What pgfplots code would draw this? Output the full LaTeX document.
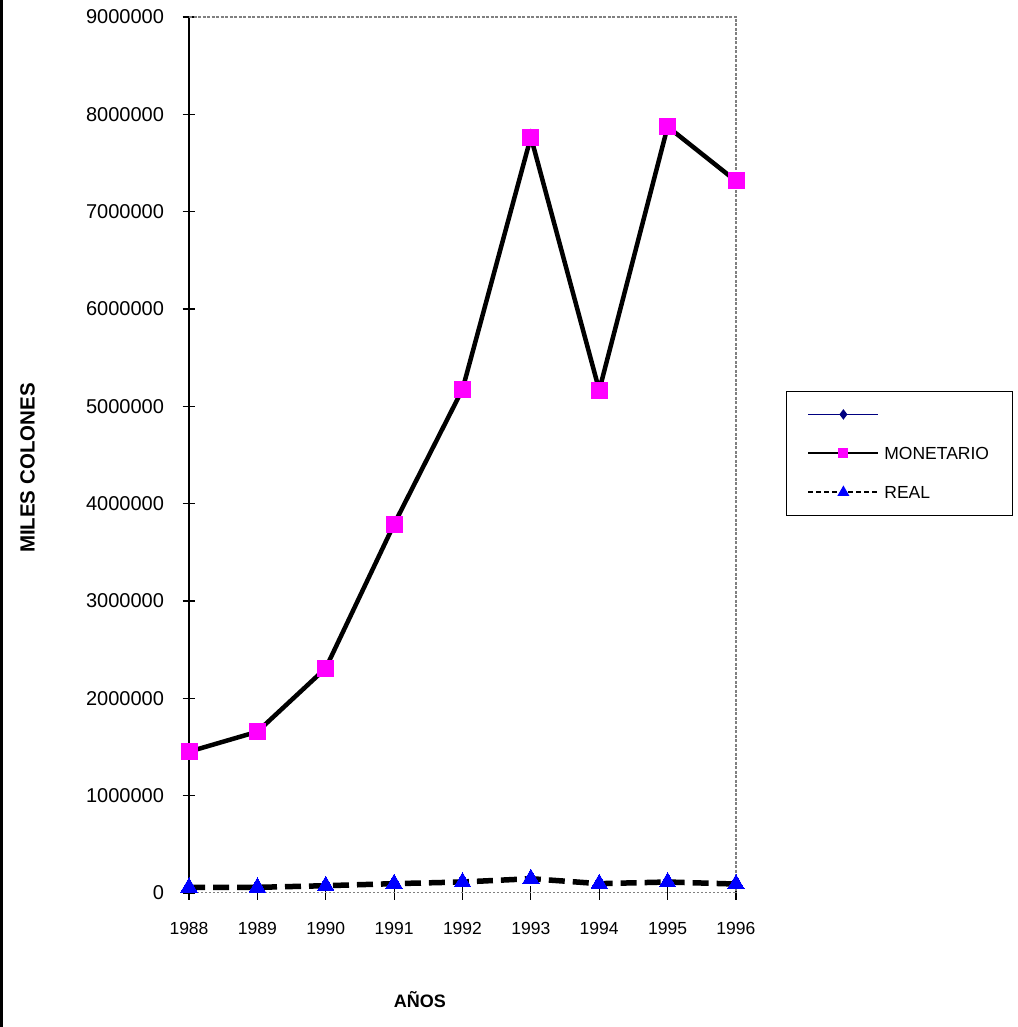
\documentclass[border=0pt]{standalone}
\usepackage{pgfplots}
\pgfplotsset{compat=1.18}
\usepackage{fontspec}
\setmainfont{Liberation Sans}
\definecolor{navyline}{RGB}{0,0,128}
\definecolor{mag}{RGB}{255,0,255}
\definecolor{blu}{RGB}{0,0,255}
\begin{document}
\begin{tikzpicture}
\path (0pt,0pt) rectangle (1017pt,1027pt);
\fill[black] (0pt,0pt) rectangle (3pt,1027pt);
\begin{axis}[
  at={(189pt,134pt)}, anchor=south west,
  scale only axis, width=547pt, height=876pt,
  xmin=1988, xmax=1996, ymin=0, ymax=9000000,
  xtick={1988,1989,...,1996},
  ytick={0,1000000,2000000,3000000,4000000,5000000,6000000,7000000,8000000,9000000},
  axis x line*=bottom, axis y line*=left,
  x axis line style={gray, dash pattern=on 2pt off 2pt, line width=1pt},
  y axis line style={black, line width=1.2pt},
  tick align=center, major tick length=13pt,
  major tick style={black, solid, line width=1.2pt},
  clip=false,
  scaled y ticks=false,
  /pgf/number format/assume math mode=true,
  x tick label style={/pgf/number format/1000 sep={}, font=\fontsize{17.5}{20}\selectfont, yshift=-19pt},
  y tick label style={/pgf/number format/fixed, /pgf/number format/1000 sep={}, font=\fontsize{20}{22}\selectfont, xshift=-15pt},
  xlabel={\textbf{AÑOS}},
  xlabel style={at={(axis description cs:0.422,-0.122)}, anchor=center, font=\fontsize{18}{20}\selectfont},
  ylabel={\textbf{MILES COLONES}},
  ylabel style={at={(axis description cs:-0.295,0.485)}, anchor=center, rotate=0, font=\fontsize{20.5}{22}\selectfont},
  legend image code/.code={\draw[mark repeat=2, mark phase=2, #1] plot coordinates {(0pt,0pt) (35pt,0pt) (70pt,0pt)};},
  legend style={at={(1.0914,0.573)}, anchor=north west, draw=black, line width=0.8pt,
    font=\fontsize{17.5}{20}\selectfont, inner xsep=21pt, inner ysep=11pt,
    row sep=15pt, column sep=3pt,
    nodes={inner sep=2pt, minimum height=24pt, text depth=0pt}},
  legend cell align=left,
]
\draw[gray, dash pattern=on 3pt off 1.5pt, line width=1.2pt] (rel axis cs:0,1) -- (rel axis cs:1,1) -- (rel axis cs:1,0);

\addlegendimage{navyline, line width=1.6pt, mark=diamond*, mark size=4pt, mark options={solid, fill=navyline, draw=navyline}}
\addlegendentry{}
\addlegendimage{black, line width=2pt, mark=square*, mark size=4pt, mark options={solid, fill=mag, draw=mag}}
\addlegendentry{MONETARIO}
\addlegendimage{black, line width=2pt, dash pattern=on 5pt off 3pt, mark=triangle*, mark size=5pt, mark options={solid, fill=blu, draw=blu}}
\addlegendentry{REAL}

\addplot[forget plot, black, line width=4.5pt, mark=square*, mark size=8pt, mark options={solid, fill=mag, draw=mag, line width=0pt}]
coordinates {(1988,1452000) (1989,1657000) (1990,2310000) (1991,3790000) (1992,5175000) (1993,7767000) (1994,5165000) (1995,7873000) (1996,7315000)};
\addplot[forget plot, black, line width=5.5pt, dash pattern=on 16pt off 8pt, mark=triangle*, mark size=9.5pt, mark options={solid, fill=blu, draw=blu, line width=0pt}]
coordinates {(1988,58000) (1989,58000) (1990,75000) (1991,96000) (1992,113000) (1993,147000) (1994,96000) (1995,113000) (1996,92000)};
\end{axis}
\end{tikzpicture}
\end{document}
